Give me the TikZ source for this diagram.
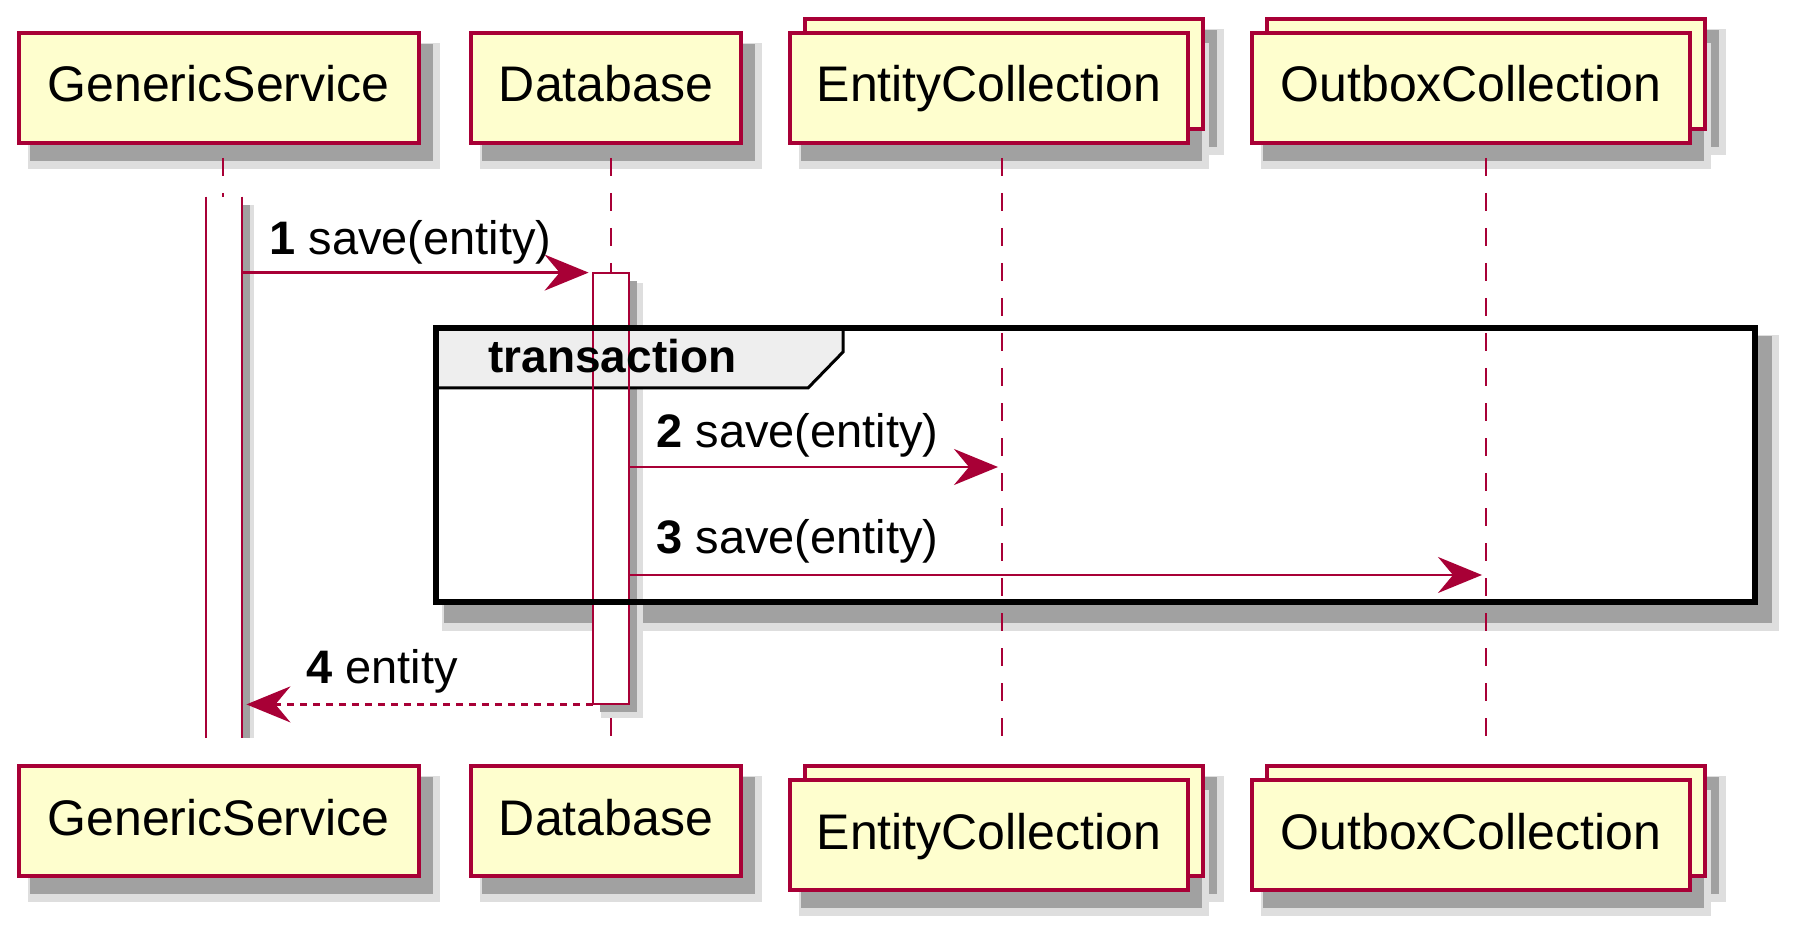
\documentclass[tikz,border=0pt]{standalone}
\usepackage{fontspec}
\setmainfont{Liberation Sans}
\usetikzlibrary{arrows.meta}

\definecolor{umlred}{HTML}{A80036}
\definecolor{umlfill}{HTML}{FEFECE}
\definecolor{tabgray}{HTML}{EEEEEE}

\tikzset{
  part/.style={draw=umlred, line width=2pt, fill=umlfill, inner sep=0pt,
    minimum height=55pt, text height=18pt, text depth=4pt,
    font=\fontsize{25}{30}\selectfont},
  act/.style={fill=white, inner sep=0pt, minimum width=18pt},
  life/.style={umlred, line width=1pt, dash pattern=on 9pt off 8.5pt},
  msg/.style={umlred, line width=1.3pt, shorten >=2pt,
    -{Stealth[length=22pt, width=18pt, inset=7.5pt]}},
  reply/.style={msg, dash pattern=on 3.5pt off 3pt},
  lbl/.style={anchor=base west, inner sep=0pt, font=\fontsize{23.5}{28}\selectfont},
  shadeout/.style={fill=black!13},
  shadein/.style={fill=black!37},
}

\newcommand{\partshadow}[4]{%
  \fill[shadeout] (#1+9,#2+10) rectangle (#3+21,#4+26);
  \fill[shadein] (#1+11,#2+11) rectangle (#3+14,#4+18);
}

\begin{document}
\begin{tikzpicture}[x=0.5pt, y=-0.5pt]
      \useasboundingbox (0,0) rectangle (1800,936);
      % shadows
      \partshadow{18.5}{33}{418.5}{143}
      \partshadow{471}{33}{741}{143}
      \partshadow{805}{19}{1203}{129}
      \partshadow{790}{33}{1188}{143}
      \partshadow{1267}{19}{1705}{129}
      \partshadow{1252}{33}{1690}{143}
      \partshadow{18.5}{766}{418.5}{876}
      \partshadow{471}{766}{741}{876}
      \partshadow{805}{766}{1203}{876}
      \partshadow{790}{780}{1188}{890}
      \partshadow{1267}{766}{1705}{876}
      \partshadow{1252}{780}{1690}{890}
      \partshadow{433}{325}{1758}{605}
      \fill[white] (436,328) rectangle (1755,602);
      % lifelines
      \coordinate (gsl) at (223,158);
      \coordinate (dbl) at (611,158);
      \coordinate (ecl) at (1002,158);
      \coordinate (ocl) at (1486,158);
      \draw[life] (gsl) -- (223,752);
      \draw[life] (dbl) -- (611,752);
      \draw[life] (ecl) -- (1002,752);
      \draw[life] (ocl) -- (1486,752);
      % activations
      \fill[shadein] (243,205) rectangle (250,738);
      \fill[shadeout] (250,205) rectangle (254,738);
      \fill[shadeout] (601,283) rectangle (643,718);
      \fill[shadein] (600,281) rectangle (637,712);
      \node[act, minimum height=270.5pt] (gsact) at (224,467.5) {};
      \node[act, minimum height=215.5pt] (dbact) at (611,488.5) {};
      % group
      \fill[tabgray] (436,328) -- (843,328) -- (843,352) -- (808,388) -- (436,388) -- cycle;
      \draw[line width=1.5pt] (843,328) -- (843,352) -- (808,388) -- (436,388);
      \begin{scope}[umlred, line width=1pt]
        \draw (gsact.north west) -- (gsact.south west);
        \draw (gsact.north east) -- (gsact.south east);
        \draw (dbact.north west) rectangle (dbact.south east);
      \end{scope}
      \draw[line width=3pt] (436,328) rectangle (1755,602);
      \node[anchor=base west, inner sep=0pt, font=\bfseries\fontsize{23}{28}\selectfont] (grp) at (488,372) {transaction};
      % messages
      \coordinate (ec2) at (1002,467);
      \coordinate (oc3) at (1486,575);
      \draw[msg] (gsact.east |- dbact.north) -- (dbact.north west);
      \draw[msg] (dbact.east |- ec2) -- (ec2);
      \draw[msg] (dbact.east |- oc3) -- (oc3);
      \draw[reply] (dbact.south west) -- (gsact.east |- dbact.south);
      \node[lbl] (l1) at (269,255) {\textbf{1} save(entity)};
      \node[lbl] (l2) at (656,447) {\textbf{2} save(entity)};
      \node[lbl] (l3) at (656,553) {\textbf{3} save(entity)};
      \node[lbl] (l4) at (306,683) {\textbf{4} entity};
      % participants
      \node[part, minimum width=200pt] (gstop) at (218.5,88) {GenericService};
      \node[part, minimum width=135pt] (dbtop) at (606,88) {Database};
      \node[part, minimum width=199pt] (ectopback) at (1004,74) {};
      \node[part, minimum width=199pt] (ectop) at (989,88) {EntityCollection};
      \node[part, minimum width=219pt] (octopback) at (1486,74) {};
      \node[part, minimum width=219pt] (octop) at (1471,88) {OutboxCollection};
      \node[part, minimum width=200pt] (gsbot) at (218.5,821) {GenericService};
      \node[part, minimum width=135pt] (dbbot) at (606,821) {Database};
      \node[part, minimum width=199pt] (ecbotback) at (1004,821) {};
      \node[part, minimum width=199pt] (ecbot) at (989,835) {EntityCollection};
      \node[part, minimum width=219pt] (ocbotback) at (1486,821) {};
      \node[part, minimum width=219pt] (ocbot) at (1471,835) {OutboxCollection};
    \end{tikzpicture}
\end{document}
